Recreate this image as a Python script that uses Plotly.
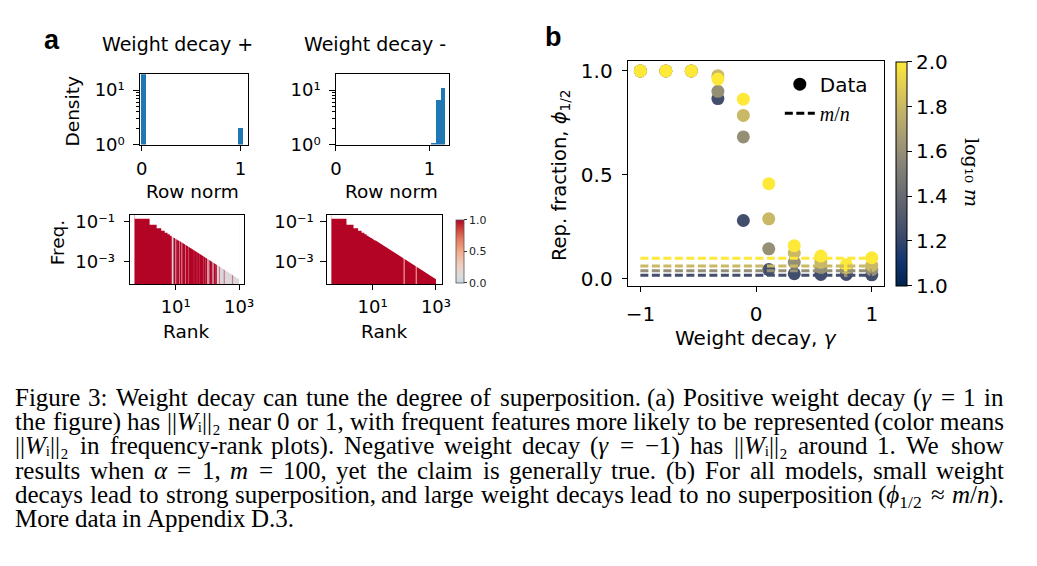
import plotly.graph_objects as go
from plotly.colors import sample_colorscale

# The page body keeps the browser's default 8px margin, so the figure is drawn
# 16px smaller than the window and all layout positions are given in window pixels.
OFF = 8
W, H = 1037 - 2 * OFF, 566 - 2 * OFF

# ---------------- data ----------------
# (a) row-norm histograms (density, log y)
pos_hist_x = [0.018, 0.995]
pos_hist_density = [19.5, 2.0]
pos_hist_binw = 0.05
neg_hist_x = [1.045, 1.095, 1.145]
neg_hist_density = [1.06, 6.4, 10.9]
neg_hist_binw = 0.05

# (a) frequency-rank plots: step heights of the leading ranks and the last rank
lead_ranks = [1, 2, 3, 4, 5, 6, 7, 8, 9, 10, 11, 12]
lead_freq = [0.134, 0.067, 0.0445, 0.0334, 0.0267, 0.0223, 0.0191, 0.0167,
             0.0148, 0.0134, 0.0121, 0.0111]
tail_rank = 1000
tail_freq = 0.000134
pos_block_last = 7                      # ranks 1..7 all represented (weight decay +)
pos_red_ranks = [9, 11, 12, 14, 17, 18, 19, 22, 23, 27, 29, 32, 33, 35, 38, 43,
                 47, 53, 60, 64, 71, 82, 92, 122, 131, 167, 187]
pos_faint_ranks = [10, 15, 25, 40, 50, 56, 75, 105, 145, 240, 340, 620]
neg_faint_ranks = [99, 239]

# (b) representation fraction vs weight decay
gamma = [-1.0, -0.78, -0.56, -0.33, -0.11, 0.11, 0.33, 0.56, 0.78, 1.0]
log10_m = [1.25, 1.6, 1.8, 2.0]
m_over_n = [0.018, 0.04, 0.063, 0.1]
phi = [
    [1.0, 1.0, 1.0, 0.867, 0.281, 0.045, 0.025, 0.022, 0.022, 0.020],
    [1.0, 1.0, 1.0, 0.902, 0.683, 0.145, 0.080, 0.055, 0.040, 0.045],
    [1.0, 1.0, 1.0, 0.977, 0.786, 0.289, 0.125, 0.080, 0.055, 0.065],
    [1.0, 1.0, 1.0, 0.961, 0.864, 0.458, 0.160, 0.110, 0.068, 0.102],
]

caption_lines = [
    "Figure 3: Weight decay can tune the degree of superposition. (a) Positive weight decay (<i>γ</i> = 1 in",
    "the figure) has ||<i>W</i>ᵢ||₂ near 0 or 1, with frequent features more likely to be represented (color means",
    "||<i>W</i>ᵢ||₂ in frequency-rank plots). Negative weight decay (<i>γ</i> = −1) has ||<i>W</i>ᵢ||₂ around 1. We show",
    "results when <i>α</i> = 1, <i>m</i> = 100, yet the claim is generally true. (b) For all models, small weight",
    "decays lead to strong superposition, and large weight decays lead to no superposition (<i>ϕ</i><sub>1/2</sub> ≈ <i>m</i>/<i>n</i>).",
    "More data in Appendix D.3.",
]

# ---------------- helpers ----------------
def px(x):
    return (x - OFF) / W


def py(y):
    return 1 - (y - OFF) / H


SANS = "DejaVu Sans"
BLUE = "#1f77b4"
RED = "#b40426"
LIGHT = "#dcd8da"
CW = [[0, "#c8d6e8"], [0.12, "#dddcdc"], [0.3, "#efcdbd"], [0.5, "#f3aa8c"],
      [0.7, "#e4795c"], [0.85, "#cf453a"], [1, "#b40426"]]

fig = go.Figure()

# top histograms
fig.add_trace(go.Bar(x=pos_hist_x, y=pos_hist_density, width=pos_hist_binw,
                     marker=dict(color=BLUE, line=dict(width=0)),
                     xaxis="x", yaxis="y", showlegend=False))
fig.add_trace(go.Bar(x=neg_hist_x, y=neg_hist_density, width=neg_hist_binw,
                     marker=dict(color=BLUE, line=dict(width=0)),
                     xaxis="x2", yaxis="y2", showlegend=False))

LO, HI = 1e-6, 1.0


def rect(x0, x1, color, xa, ya):
    fig.add_trace(go.Scatter(x=[x0, x0, x1, x1, x0], y=[LO, HI, HI, LO, LO],
                             mode="lines", fill="toself", fillcolor=color,
                             line=dict(width=0, color=color), xaxis=xa, yaxis=ya,
                             showlegend=False, hoverinfo="skip"))


def stripes(ranks, color, xa, ya, width=1.6, opacity=1.0):
    xs, ys = [], []
    for r in ranks:
        xs += [r, r, None]
        ys += [LO, HI, None]
    fig.add_trace(go.Scatter(x=xs, y=ys, mode="lines", opacity=opacity,
                             line=dict(width=width, color=color), xaxis=xa, yaxis=ya,
                             showlegend=False, hoverinfo="skip"))


def mask(xa, ya):
    xs, ys = [lead_ranks[0] - 0.5], [HI * 10]
    for r, f in zip(lead_ranks, lead_freq):
        xs += [r - 0.5, r + 0.5]
        ys += [f, f]
    xs += [tail_rank + 0.5, tail_rank + 0.5, lead_ranks[0] - 0.5]
    ys += [tail_freq, HI * 10, HI * 10]
    fig.add_trace(go.Scatter(x=xs, y=ys, mode="lines", fill="toself", fillcolor="white",
                             line=dict(width=0, color="white"), xaxis=xa, yaxis=ya,
                             showlegend=False, hoverinfo="skip"))


# bottom-left (weight decay +)
rect(0.5, tail_rank + 0.5, LIGHT, "x3", "y3")
rect(0.5, pos_block_last + 0.5, RED, "x3", "y3")
stripes(pos_red_ranks, RED, "x3", "y3")
stripes(pos_faint_ranks, RED, "x3", "y3", width=1.2, opacity=0.45)
mask("x3", "y3")

# bottom-right (weight decay -)
rect(0.5, tail_rank + 0.5, RED, "x4", "y4")
stripes(neg_faint_ranks, "#e9a08c", "x4", "y4", width=1.2)
mask("x4", "y4")

# colorbar of the rank plots
fig.add_trace(go.Scatter(
    x=[None], y=[None], mode="markers", xaxis="x4", yaxis="y4", showlegend=False,
    marker=dict(color=[0.5], colorscale=CW, cmin=0, cmax=1, showscale=True,
                colorbar=dict(x=px(457), xanchor="left", y=py(253.5), yanchor="middle",
                              len=65 / H, lenmode="fraction", thickness=8, xpad=0, ypad=0,
                              outlinewidth=0.8, outlinecolor="#555",
                              tickmode="array", tickvals=[0, 0.5, 1.0],
                              ticktext=["0.0", "0.5", "1.0"], ticks="outside", ticklen=3,
                              tickcolor="#333", tickfont=dict(family=SANS, size=11, color="#222"))),
    hoverinfo="skip"))

# (b) scatter points then dashed m/n lines on top
for k in range(len(log10_m)):
    fig.add_trace(go.Scatter(
        x=gamma, y=phi[k], mode="markers", xaxis="x5", yaxis="y5", showlegend=False,
        marker=dict(size=13, color=[log10_m[k]] * len(gamma), colorscale="Cividis",
                    cmin=1.0, cmax=2.0, line=dict(width=0),
                    showscale=(k == len(log10_m) - 1),
                    colorbar=dict(x=px(904), xanchor="left", y=py(174), yanchor="middle",
                                  len=230 / H, lenmode="fraction", thickness=11, xpad=0, ypad=0,
                                  outlinewidth=1, outlinecolor="black",
                                  tickmode="array", tickvals=[1.0, 1.2, 1.4, 1.6, 1.8, 2.0],
                                  ticktext=["1.0", "1.2", "1.4", "1.6", "1.8", "2.0"],
                                  ticks="outside", ticklen=5, tickwidth=1.2, tickcolor="black",
                                  tickfont=dict(family=SANS, size=20, color="black"))),
        hoverinfo="skip"))
for k in range(len(log10_m)):
    col = sample_colorscale("Cividis", [(log10_m[k] - 1.0) / 1.0])[0]
    fig.add_trace(go.Scatter(
        x=gamma, y=[m_over_n[k]] * len(gamma), mode="lines", xaxis="x5", yaxis="y5",
        showlegend=False, line=dict(color=col, width=3, dash="8px,3.5px"), hoverinfo="skip"))

# legend entries
fig.add_trace(go.Scatter(x=[None], y=[None], mode="markers", name="Data",
                         marker=dict(size=13, color="black"), xaxis="x5", yaxis="y5"))
fig.add_trace(go.Scatter(x=[None], y=[None], mode="lines",
                         name="<span style='font-family:Liberation Serif'><i>m</i>/<i>n</i></span>",
                         line=dict(color="black", width=3, dash="8px,3.5px"),
                         xaxis="x5", yaxis="y5"))


def axis(**kw):
    d = dict(showline=True, mirror=True, linecolor="black", linewidth=1.2,
             ticks="outside", ticklen=5.5, tickwidth=1.2, tickcolor="black",
             showgrid=False, zeroline=False, fixedrange=True, tickmode="array",
             tickfont=dict(family=SANS, size=18, color="black"))
    d.update(kw)
    return d


minor_log = dict(tickvals=[2, 3, 4, 5, 6, 7, 8, 9], ticks="outside", ticklen=3,
                 tickwidth=1, tickcolor="black")

fig.update_layout(
    width=W, height=H, margin=dict(l=0, r=0, t=0, b=0),
    paper_bgcolor="white", plot_bgcolor="white", hovermode=False,
    bargap=0,
    xaxis=axis(domain=[px(136), px(246)], anchor="y", range=[-0.017, 1.078],
               tickvals=[0, 1], ticktext=["0", "1"], ticklabelstandoff=2),
    yaxis=axis(domain=[py(144), py(72)], anchor="x", type="log", range=[0, 1.29],
               tickvals=[1, 10], ticktext=["10⁰", "10¹"], minor=minor_log,
               ticklabelstandoff=5),
    xaxis2=axis(domain=[px(335), px(450)], anchor="y2", range=[0, 1.21],
                tickvals=[0, 1], ticktext=["0", "1"], ticklabelstandoff=2),
    yaxis2=axis(domain=[py(144), py(72)], anchor="x2", type="log", range=[0, 1.29],
                tickvals=[1, 10], ticktext=["10⁰", "10¹"], minor=minor_log,
                ticklabelstandoff=5),
    xaxis3=axis(domain=[px(126), px(242)], anchor="y3", type="log", range=[-0.438, 3.165],
                tickvals=[10, 1000], ticktext=["10¹", "10³"], ticklabelstandoff=1),
    yaxis3=axis(domain=[py(287), py(216)], anchor="x3", type="log", range=[-4.11, -0.676],
                tickvals=[0.1, 0.001], ticktext=["10⁻¹", "10⁻³"], ticklabelstandoff=5),
    xaxis4=axis(domain=[px(326), px(443)], anchor="y4", type="log", range=[-0.438, 3.196],
                tickvals=[10, 1000], ticktext=["10¹", "10³"], ticklabelstandoff=1),
    yaxis4=axis(domain=[py(287), py(216)], anchor="x4", type="log", range=[-4.11, -0.676],
                tickvals=[0.1, 0.001], ticktext=["10⁻¹", "10⁻³"], ticklabelstandoff=3),
    xaxis5=axis(domain=[px(632), px(892)], anchor="y5", range=[-1.105, 1.107],
                tickvals=[-1, 0, 1], ticktext=["−1", "0", "1"], ticklabelstandoff=5,
                tickfont=dict(family=SANS, size=20, color="black")),
    yaxis5=axis(domain=[py(289), py(58)], anchor="x5", range=[-0.033, 1.049],
                tickvals=[0, 0.5, 1.0], ticktext=["0.0", "0.5", "1.0"],
                tickfont=dict(family=SANS, size=20, color="black"), ticklabelstandoff=5),
    showlegend=True,
    legend=dict(x=px(786), xanchor="left", y=py(62), yanchor="top",
                bgcolor="rgba(0,0,0,0)", borderwidth=0, itemwidth=30,
                font=dict(family=SANS, size=20, color="black"), tracegroupgap=0),
)

ann = []


def text(s, x, y, size, angle=0, xanchor="center", yanchor="middle", family=SANS, color="black"):
    ann.append(dict(text=s, x=px(x), y=py(y), xref="paper", yref="paper", showarrow=False,
                    xanchor=xanchor, yanchor=yanchor, textangle=angle, borderpad=0,
                    font=dict(family=family, size=size, color=color)))


# panel labels and titles
text("<b>a</b>", 37, 37, 27, xanchor="left", family="Liberation Sans")
text("<b>b</b>", 546, 34, 27, xanchor="left", family="Liberation Sans")
text("Weight decay +", 174, 41, 19)
text("Weight decay -", 375, 41, 19)
text("Density", 67, 110, 18.5, angle=-90)
text("Row norm", 189, 192.5, 18.5)
text("Row norm", 392, 192.5, 18.5)
text("Freq.", 53, 244, 18.5, angle=-90)
text("Rank", 183, 336, 18.5)
text("Rank", 384, 336, 18.5)
text("Weight decay, <i>γ</i>", 762, 342.5, 20)
text("Rep. fraction, <i>ϕ</i><sub>1/2</sub>", 563, 175, 19.5, angle=-90)
text("log₁₀ <i>m</i>", 981, 173, 19, angle=90, family="DejaVu Serif")

# caption, justified word by word (Times metrics; Liberation Serif is metric compatible)
TR = {' ': 250, '!': 333, '(': 333, ')': 333, ',': 250, '-': 333, '.': 250, '/': 278,
      ':': 278, ';': 278, '=': 564, '+': 564, '|': 200}
for c in "0123456789":
    TR[c] = 500
TR.update(dict(zip("ABCDEFGHIJKLMNOPQRSTUVWXYZ",
                   [722, 667, 667, 722, 611, 556, 722, 722, 333, 389, 722, 611, 889, 722, 722,
                    556, 722, 667, 556, 611, 722, 722, 944, 722, 722, 611])))
TR.update(dict(zip("abcdefghijklmnopqrstuvwxyz",
                   [444, 500, 444, 500, 444, 333, 500, 500, 278, 278, 500, 278, 778, 500, 500,
                    500, 500, 333, 389, 278, 500, 500, 722, 500, 500, 444])))
TR.update({'−': 564, '≈': 549, 'γ': 440, 'α': 530, 'ϕ': 600, 'ᵢ': 200, '₂': 330})
TI = {'W': 833, 'i': 278, 'm': 722, 'n': 500, 'γ': 440, 'α': 530, 'ϕ': 600}


def text_w(tok, fs):
    w, sub, ital, i = 0.0, False, False, 0
    while i < len(tok):
        for tag, attr, val in (("<sub>", "s", True), ("</sub>", "s", False),
                               ("<i>", "i", True), ("</i>", "i", False)):
            if tok.startswith(tag, i):
                if attr == "s":
                    sub = val
                else:
                    ital = val
                i += len(tag)
                break
        else:
            ch = tok[i]
            cw = TI.get(ch, TR.get(ch, 500)) if ital else TR.get(ch, 500)
            w += cw * (0.7 if sub else 1.0)
            i += 1
    return w / 1000.0 * fs


CFS = 25
CX0, CX1 = 8.5, 1012
BASE0, LEAD = 410.5, 25
for li, line in enumerate(caption_lines):
    words = line.split(" ")
    widths = [text_w(wd, CFS) for wd in words]
    if li < len(caption_lines) - 1:
        gap = (CX1 - CX0 - sum(widths)) / (len(words) - 1)
    else:
        gap = 0.25 * CFS
    x = CX0
    ytop = BASE0 + li * LEAD - 0.891 * CFS
    for wd, ww in zip(words, widths):
        text(wd, x, ytop, CFS, xanchor="left", yanchor="top", family="Liberation Serif")
        x += ww + gap

fig.update_layout(annotations=ann)
fig.write_html("out.html", config={"displayModeBar": False})
